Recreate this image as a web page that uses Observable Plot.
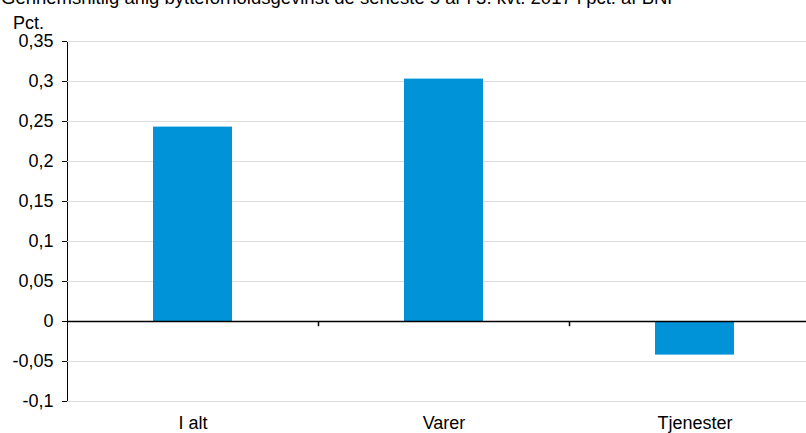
<!DOCTYPE html>
<html>
<head>
<meta charset="utf-8">
<script src="https://cdn.jsdelivr.net/npm/d3@7"></script>
<script src="https://cdn.jsdelivr.net/npm/@observablehq/plot@0.6"></script>
<style>
  html, body { margin: 0; padding: 0; background: #fff; overflow: hidden; }
  #wrap { position: relative; width: 806px; height: 433px; font-family: "Liberation Sans", Arial, sans-serif; }
  .txt { position: absolute; color: #000; white-space: nowrap; }
  #title { left: 1px; top: -10.7px; font-size: 18.5px; line-height: 18.5px; }
  #unit { left: 13px; top: 13.5px; font-size: 18px; line-height: 18px; }
  #chart { position: absolute; left: 0; top: 0; }
</style>
</head>
<body>
<div id="wrap">
  <div id="chart"></div>
  <div class="txt" id="title">Gennemsnitlig årlig bytteforholdsgevinst de seneste 5 år i 3. kvt. 2017 i pct. af BNP</div>
  <div class="txt" id="unit">Pct.</div>
</div>
<script>
const categories = ["I alt", "Varer", "Tjenester"];
const values = [0.243, 0.303, -0.042];
const yTicks = [-0.1, -0.05, 0, 0.05, 0.1, 0.15, 0.2, 0.25, 0.3, 0.35];

const data = categories.map((c, i) => ({category: c, value: values[i]}));
const fmt = d => String(+d.toFixed(2)).replace(".", ",");

const chart = Plot.plot({
  width: 806,
  height: 433,
  marginTop: 41,
  marginBottom: 32,
  marginLeft: 67,
  marginRight: 0,
  style: {fontFamily: "'Liberation Sans', Arial, sans-serif", fontSize: "18px", color: "#000", background: "transparent"},
  x: {domain: categories, range: [67, 820], padding: 0, label: null, tickSize: 0, tickPadding: 15},
  y: {domain: [-0.1, 0.35], ticks: yTicks, tickFormat: fmt, label: null, tickSize: 5, tickPadding: 9, line: true},
  marks: [
    Plot.ruleY(yTicks.filter(d => d !== 0), {stroke: "#dcdcdc", strokeWidth: 1}),
    Plot.barY(data, {x: "category", y: "value", fill: "#0093d7", insetLeft: 86, insetRight: 86}),
    Plot.ruleY([0], {stroke: "#000", strokeWidth: 1.6}),
    Plot.ruleX(categories.slice(0, 2), {x: d => d, y1: 0, y2: -0.0065, dx: 125.5, stroke: "#000", strokeWidth: 1.5})
  ]
});
document.getElementById("chart").appendChild(chart);
</script>
</body>
</html>
